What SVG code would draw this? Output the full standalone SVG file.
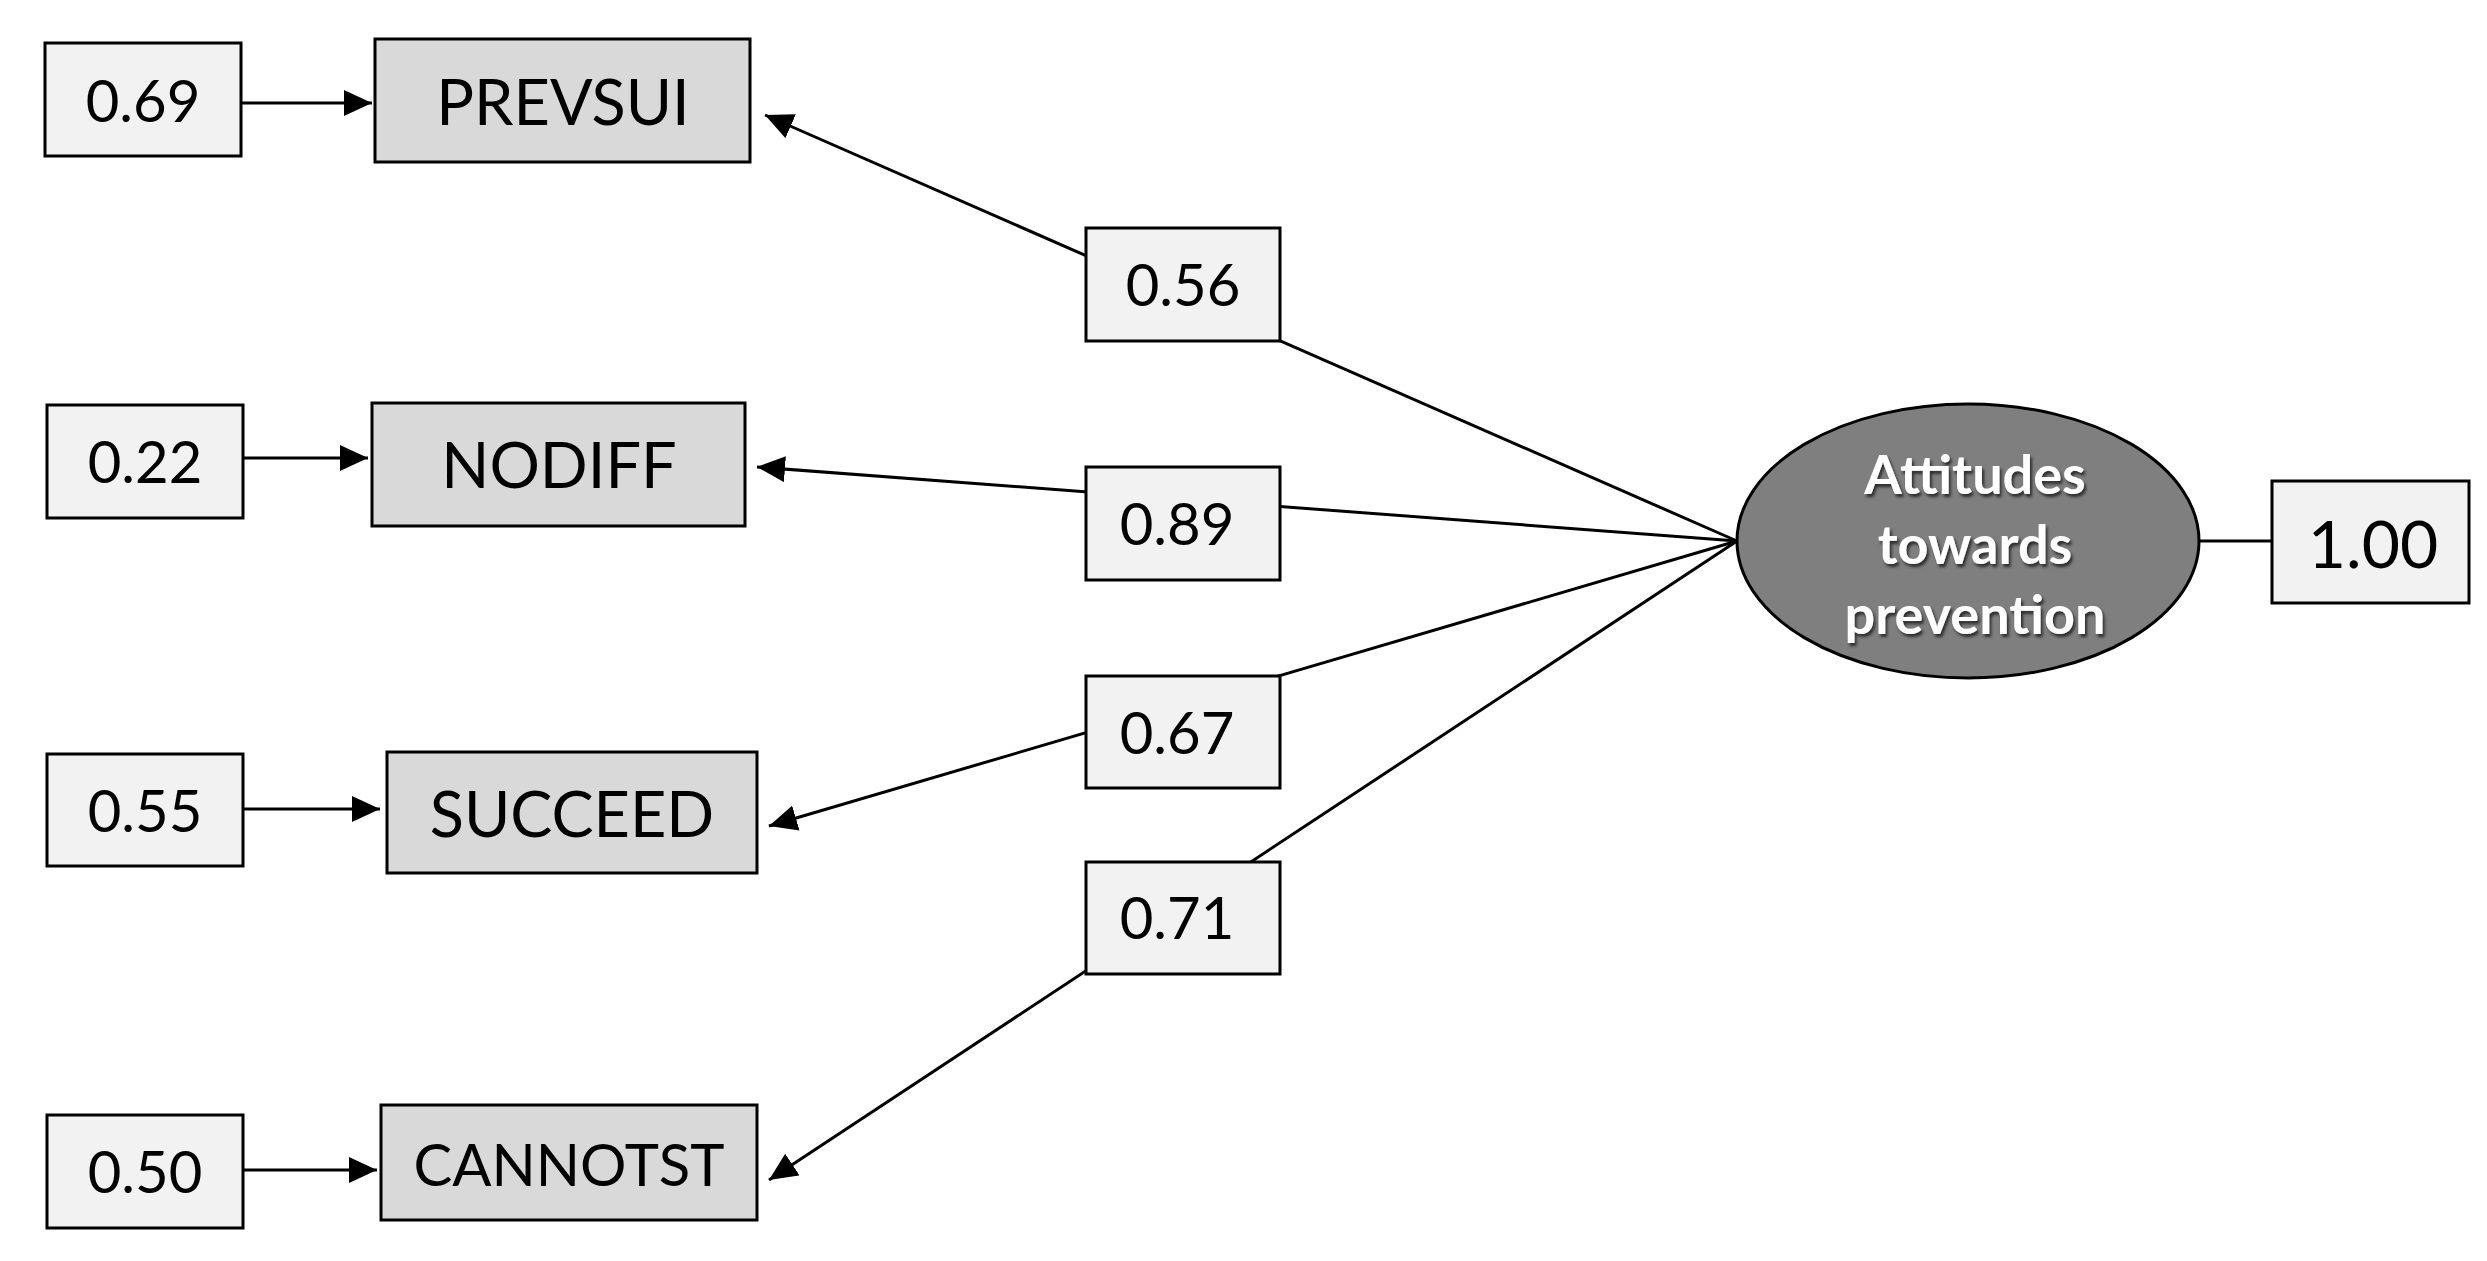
<svg xmlns="http://www.w3.org/2000/svg" width="2487" height="1261" viewBox="0 0 2487 1261">
<defs>
<style>
.num{fill:#f2f2f2;stroke:#000;stroke-width:3}
.var{fill:#d9d9d9;stroke:#000;stroke-width:3}
.t{font-family:Lato,"Liberation Sans",sans-serif;fill:#000;text-anchor:middle;dominant-baseline:central}
.n{font-size:58px}
.v{font-size:63px}
.c{stroke:#000;stroke-width:3;fill:none}
.lat{font-family:Lato,"Liberation Sans",sans-serif;font-weight:bold;font-size:54px;fill:#fff;text-anchor:middle;dominant-baseline:central}
</style>
<marker id="ah" markerUnits="userSpaceOnUse" markerWidth="30" markerHeight="26" refX="28" refY="13" orient="auto">
<path d="M0,0 L28,13 L0,26 Z" fill="#000"/>
</marker>
<filter id="sh" x="-20%" y="-20%" width="140%" height="140%">
<feDropShadow dx="2" dy="3" stdDeviation="1.5" flood-color="#222" flood-opacity="0.9"/>
</filter>
</defs>
<rect width="2487" height="1261" fill="#fff"/>
<g id="connectors">
<line class="c" x1="241" y1="103" x2="372" y2="103" marker-end="url(#ah)"/>
<line class="c" x1="243" y1="458" x2="368" y2="458" marker-end="url(#ah)"/>
<line class="c" x1="243" y1="809" x2="380" y2="809" marker-end="url(#ah)"/>
<line class="c" x1="243" y1="1170" x2="377" y2="1170" marker-end="url(#ah)"/>
<line class="c" x1="1737" y1="541" x2="765" y2="115" marker-end="url(#ah)"/>
<line class="c" x1="1737" y1="541" x2="757" y2="467" marker-end="url(#ah)"/>
<line class="c" x1="1737" y1="541" x2="769" y2="826" marker-end="url(#ah)"/>
<line class="c" x1="1737" y1="541" x2="769" y2="1180" marker-end="url(#ah)"/>
<line class="c" x1="2199" y1="541" x2="2272" y2="541"/>
</g>
<g id="e1"><rect class="num" x="45" y="43" width="196" height="113"/><text class="t n" x="143" y="99">0.69</text></g>
<g id="PREVSUI"><rect class="var" x="375" y="39" width="375" height="123"/><text class="t v" x="563" y="100">PREVSUI</text></g>
<g id="e2"><rect class="num" x="47" y="405" width="196" height="113"/><text class="t n" x="145" y="460">0.22</text></g>
<g id="NODIFF"><rect class="var" x="372" y="403" width="373" height="123"/><text class="t v" x="559" y="463">NODIFF</text></g>
<g id="e3"><rect class="num" x="47" y="754" width="196" height="112"/><text class="t n" x="145" y="809">0.55</text></g>
<g id="SUCCEED"><rect class="var" x="387" y="752" width="370" height="121"/><text class="t v" x="572" y="812">SUCCEED</text></g>
<g id="e4"><rect class="num" x="47" y="1115" width="196" height="113"/><text class="t n" x="145" y="1170">0.50</text></g>
<g id="CANNOTST"><rect class="var" x="381" y="1105" width="376" height="115"/><text class="t" style="font-size:58px" x="569" y="1163">CANNOTST</text></g>
<g id="l1"><rect class="num" x="1086" y="228" width="194" height="113"/><text class="t n" x="1183" y="283">0.56</text></g>
<g id="l2"><rect class="num" x="1086" y="467" width="194" height="113"/><text class="t n" x="1177" y="522">0.89</text></g>
<g id="l3"><rect class="num" x="1086" y="676" width="194" height="112"/><text class="t n" x="1177" y="731">0.67</text></g>
<g id="l4"><rect class="num" x="1086" y="862" width="194" height="112"/><text class="t n" x="1177" y="916">0.71</text></g>
<g id="latent">
<ellipse cx="1968" cy="541" rx="231" ry="137" fill="#7f7f7f" stroke="#000" stroke-width="3"/>
<g filter="url(#sh)">
<text class="lat" x="1975" y="473">Attitudes</text>
<text class="lat" x="1975" y="543">towards</text>
<text class="lat" x="1975" y="613">prevention</text>
</g>
</g>
<g id="var1"><rect class="num" x="2272" y="481" width="197" height="122"/><text class="t" style="font-size:66px" x="2373" y="542">1.00</text></g>
</svg>
